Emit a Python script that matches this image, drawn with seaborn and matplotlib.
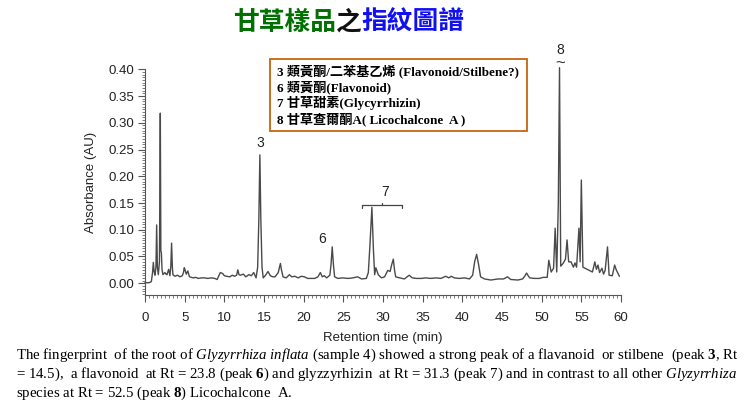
import matplotlib
matplotlib.use("Agg")
import matplotlib.pyplot as plt
from matplotlib.patches import Rectangle
from matplotlib.ticker import MultipleLocator
import numpy as np
import pandas as pd
import seaborn as sns

# ---------------- data ----------------
rt_min = [0.0, 0.5, 0.8, 0.95, 1.05, 1.15, 1.26, 1.38, 1.47, 1.56, 1.68, 1.82, 1.93, 2.0, 2.06,
          2.15, 2.26, 2.5, 2.65, 2.77, 2.9, 2.98, 3.14, 3.25, 3.35, 3.45, 3.52, 3.77, 4.1, 4.4,
          4.7, 4.85, 4.95, 5.05, 5.2, 5.4, 5.6, 6.1, 6.4, 6.7, 7.1, 7.5, 7.9, 8.4, 8.8,
          9.1, 9.3, 9.5, 9.8, 10.0, 10.3, 10.7, 11.0, 11.3, 11.55, 11.7, 11.85, 12.0, 12.4, 12.7,
          13.1, 13.4, 13.7, 14.0, 14.2, 14.35, 14.48, 14.6, 14.75, 14.9, 15.2, 15.5, 15.8, 16.1, 16.4,
          16.8, 16.95, 17.07, 17.2, 17.4, 17.8, 18.2, 18.5, 18.9, 19.3, 19.7, 20.1, 20.5, 21.0, 21.4,
          21.8, 22.1, 22.35, 22.6, 22.9, 23.3, 23.45, 23.6, 23.75, 23.9, 24.3, 24.9, 25.6, 26.2, 26.8,
          27.3, 27.9, 28.15, 28.35, 28.6, 28.8, 28.95, 29.1, 29.4, 29.8, 30.2, 30.6, 30.9, 31.1, 31.3,
          31.45, 31.6, 32.1, 32.7, 33.3, 33.7, 34.2, 34.8, 35.4, 36.0, 36.7, 37.3, 37.9, 38.3, 38.6,
          39.0, 39.6, 40.3, 40.9, 41.3, 41.55, 41.8, 42.05, 42.3, 42.8, 43.6, 44.5, 45.2, 45.7, 46.1,
          47.0, 47.6, 47.9, 48.1, 48.3, 48.5, 49.1, 49.7, 50.2, 50.7, 50.9, 51.2, 51.5, 51.7, 51.9,
          52.1, 52.25, 52.4, 52.7, 53.0, 53.2, 53.4, 53.7, 54.0, 54.2, 54.4, 54.7, 54.85, 55.0, 55.2,
          55.6, 56.0, 56.4, 56.7, 56.9, 57.1, 57.3, 57.6, 57.8, 58.0, 58.3, 58.5, 58.9, 59.2, 59.4,
          59.8]
absorbance = [0.001, 0.001, 0.003, 0.020, 0.039, 0.022, 0.015, 0.030, 0.109, 0.030, 0.016, 0.040, 0.318, 0.060, 0.058,
              0.025, 0.016, 0.020, 0.017, 0.016, 0.022, 0.026, 0.014, 0.030, 0.075, 0.030, 0.016, 0.013, 0.015, 0.012,
              0.014, 0.020, 0.029, 0.025, 0.017, 0.023, 0.012, 0.010, 0.011, 0.009, 0.010, 0.010, 0.009, 0.010, 0.009,
              0.007, 0.014, 0.020, 0.018, 0.014, 0.013, 0.012, 0.015, 0.013, 0.015, 0.025, 0.016, 0.015, 0.017, 0.012,
              0.016, 0.014, 0.020, 0.010, 0.030, 0.120, 0.240, 0.120, 0.030, 0.010, 0.015, 0.022, 0.014, 0.012, 0.012,
              0.020, 0.030, 0.037, 0.025, 0.012, 0.010, 0.016, 0.012, 0.013, 0.010, 0.013, 0.012, 0.009, 0.009, 0.009,
              0.012, 0.020, 0.012, 0.014, 0.010, 0.015, 0.035, 0.068, 0.035, 0.012, 0.009, 0.010, 0.009, 0.010, 0.012,
              0.008, 0.009, 0.020, 0.070, 0.142, 0.060, 0.016, 0.029, 0.016, 0.010, 0.012, 0.024, 0.022, 0.035, 0.045,
              0.025, 0.012, 0.010, 0.008, 0.015, 0.010, 0.009, 0.009, 0.010, 0.009, 0.010, 0.009, 0.013, 0.010, 0.013,
              0.010, 0.009, 0.010, 0.008, 0.015, 0.040, 0.054, 0.035, 0.012, 0.008, 0.006, 0.008, 0.008, 0.012, 0.007,
              0.006, 0.008, 0.014, 0.019, 0.014, 0.010, 0.009, 0.009, 0.011, 0.011, 0.043, 0.021, 0.028, 0.103, 0.021,
              0.150, 0.403, 0.032, 0.037, 0.045, 0.081, 0.040, 0.040, 0.030, 0.038, 0.030, 0.103, 0.040, 0.193, 0.030,
              0.027, 0.024, 0.021, 0.040, 0.026, 0.034, 0.020, 0.028, 0.017, 0.024, 0.068, 0.015, 0.014, 0.034, 0.025,
              0.013]

peak_labels = ["3", "6", "7", "8"]
peak_label_rt = [14.5, 22.3, 30.3, 52.3]
peak_label_abs = [0.262, 0.083, 0.171, 0.437]
bracket_rt = [27.4, 32.4]          # range of peak group 7
bracket_abs = 0.146
break_mark_rt = 52.3
break_mark_abs = 0.410

x_ticks = list(range(0, 61, 5))
y_ticks = [0.00, 0.05, 0.10, 0.15, 0.20, 0.25, 0.30, 0.35, 0.40]

title_parts = ["甘草樣品", "之", "指紋圖譜"]
legend_lines = ["3 類黃酮/二苯基乙烯 (Flavonoid/Stilbene?)",
                "6 類黃酮(Flavonoid)",
                "7 甘草甜素(Glycyrrhizin)",
                "8 甘草查爾酮A( Licochalcone  A )"]
caption_lines = [
    r"The fingerprint  of the root of $\mathit{Glyzyrrhiza\ inflata}$ (sample 4) showed a strong peak of a flavanoid  or stilbene  (peak $\mathbf{3}$, Rt",
    r"= 14.5),  a flavonoid  at Rt = 23.8 (peak $\mathbf{6}$) and glyzzyrhizin  at Rt = 31.3 (peak 7) and in contrast to all other $\mathit{Glyzyrrhiza}$",
    r"species at Rt = 52.5 (peak $\mathbf{8}$) Licochalcone  A.",
]

# ---------------- styling ----------------
sns.set_theme(style="ticks")
plt.rcParams["font.family"] = ["Liberation Sans", "DejaVu Sans"]
plt.rcParams["mathtext.fontset"] = "custom"
plt.rcParams["mathtext.rm"] = "Liberation Serif"
plt.rcParams["mathtext.it"] = "Liberation Serif:italic"
plt.rcParams["mathtext.bf"] = "Liberation Serif:bold"

W, H = 749, 407
fig = plt.figure(figsize=(W / 100, H / 100), dpi=100)
fig.patch.set_facecolor("white")

def fx(px):
    return px / W

def fy(py):
    return 1 - py / H

ax = fig.add_axes([fx(145), fy(295), fx(621) - fx(145), fy(69.3) - fy(295)])
df = pd.DataFrame({"Retention time (min)": rt_min, "Absorbance (AU)": absorbance})
sns.lineplot(data=df, x="Retention time (min)", y="Absorbance (AU)", ax=ax,
             color="#4a4a4a", linewidth=1.0, estimator=None, sort=False, clip_on=False)

ax.set_xlim(0, 60)
ax.set_ylim(-0.022, 0.40)
ax.set_xticks(x_ticks)
ax.set_yticks(y_ticks)
ax.set_yticklabels([f"{v:.2f}" for v in y_ticks])
ax.xaxis.set_minor_locator(MultipleLocator(0.5))
ax.yaxis.set_minor_locator(MultipleLocator(0.005))
sns.despine(ax=ax)
for s in ["left", "bottom"]:
    ax.spines[s].set_color("#555555")
    ax.spines[s].set_linewidth(0.8)
ax.tick_params(which="major", length=5, width=0.8, color="#555555",
               labelsize=9.5, labelcolor="#222222", pad=3)
ax.tick_params(axis="x", which="major", pad=7)
ax.tick_params(which="minor", length=2.5, width=0.6, color="#666666")
ax.set_xlabel("Retention time (min)", fontsize=9.5, color="#222222", labelpad=6)
ax.set_ylabel("Absorbance (AU)", fontsize=9.5, color="#222222", labelpad=8)

# peak annotations
for lab, t, v in zip(peak_labels, peak_label_rt, peak_label_abs):
    ax.text(t, v, lab, ha="center", va="center", fontsize=10, color="#222222", clip_on=False)
ax.text(break_mark_rt, break_mark_abs, "~", ha="center", va="center", fontsize=12,
        color="#333333", clip_on=False)
bx0, bx1 = bracket_rt
bmid = (bx0 + bx1) / 2
ax.plot([bx0, bx0, bx1, bx1], [bracket_abs - 0.006, bracket_abs, bracket_abs, bracket_abs - 0.006],
        color="#444444", lw=0.9)
ax.plot([bmid, bmid], [bracket_abs, bracket_abs + 0.004], color="#444444", lw=0.9)

# legend-like box
fig.patches.append(Rectangle((fx(270), fy(131)), fx(527) - fx(270), fy(59) - fy(131),
                             transform=fig.transFigure, fill=False, edgecolor="#c8650f", lw=1.3))
leg_texts = []
for i, line in enumerate(legend_lines):
    leg_texts.append(fig.text(fx(277), fy(71 + 16.1 * i), line, ha="left", va="center", fontsize=9,
                              fontweight="bold", family=["Liberation Serif", "Noto Sans CJK TC"],
                              color="black"))

# title in three colours
fig.canvas.draw()
renderer = fig.canvas.get_renderer()
# fit legend text width to the box (first line ends near the right border)
wl = leg_texts[0].get_window_extent(renderer).width
lfs = 9 * (243 / wl)
for t in leg_texts:
    t.set_fontsize(lfs)

title_colors = ["#007000", "#111111", "#1010f0"]
xpos = fx(233)
for part, col in zip(title_parts, title_colors):
    t = fig.text(xpos, fy(22), part, ha="left", va="center", fontsize=18.5, fontweight="bold",
                 family=["Noto Sans CJK TC"], color=col)
    ext = t.get_window_extent(renderer)
    xpos += ext.width / W

# caption
cap_texts = []
for i, line in enumerate(caption_lines):
    cap_texts.append(fig.text(fx(16), fy(355 + 19.3 * i), line, ha="left", va="center",
                              fontsize=10, family=["Liberation Serif"], color="black"))
fig.canvas.draw()
w0 = cap_texts[0].get_window_extent(renderer).width
fs = 10 * (724 / w0)
for t in cap_texts:
    t.set_fontsize(fs)

fig.savefig("out.png", dpi=100, facecolor="white")
